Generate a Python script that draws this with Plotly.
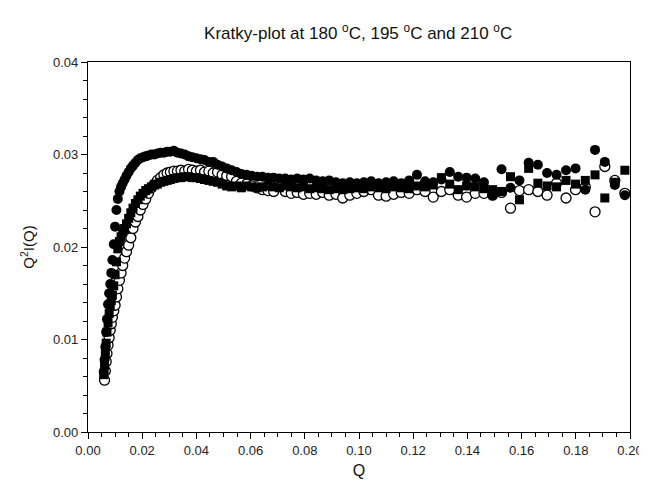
import plotly.graph_objects as go

# Shared Q grid
Q = [0.0058, 0.0061, 0.0064, 0.0067, 0.0070, 0.0074, 0.0078, 0.0082, 0.0086, 0.0090,
     0.0095, 0.0100, 0.0105, 0.0110, 0.0116, 0.0122, 0.0128, 0.0135, 0.0142, 0.0150,
     0.0158, 0.0166, 0.0175, 0.0184, 0.0193, 0.0203, 0.0213, 0.0223, 0.0234, 0.0245,
     0.0256, 0.0268, 0.0280, 0.0292, 0.0304, 0.0317, 0.0330, 0.0343, 0.0357, 0.0371,
     0.0385, 0.0400, 0.0415, 0.0430, 0.0446, 0.0462, 0.0478, 0.0495, 0.0512, 0.0530,
     0.0548, 0.0566, 0.0585, 0.0604, 0.0624, 0.0644, 0.0664, 0.0685, 0.0706, 0.0728,
     0.0750, 0.0772, 0.0795, 0.0818, 0.0842, 0.0866, 0.0890, 0.0915, 0.0940, 0.0966,
     0.0992, 0.1018, 0.1045, 0.1072, 0.1100, 0.1128, 0.1156, 0.1185, 0.1214, 0.1244,
     0.1274, 0.1304, 0.1335, 0.1366, 0.1397, 0.1429, 0.1461, 0.1493, 0.1526, 0.1559,
     0.1592, 0.1626, 0.1660, 0.1694, 0.1729, 0.1764, 0.1799, 0.1835, 0.1871, 0.1907,
     0.1944, 0.1981]

# Filled circles
I_180 = [0.0065, 0.0078, 0.0092, 0.0108, 0.0122, 0.0138, 0.0150, 0.0160, 0.0172, 0.0186,
         0.0203, 0.0222, 0.0240, 0.0252, 0.0260, 0.0265, 0.0269, 0.0273, 0.0277, 0.0281,
         0.0285, 0.0288, 0.0291, 0.0294, 0.0296, 0.0297, 0.0298, 0.0299, 0.0300, 0.0300,
         0.0301, 0.0302, 0.0302, 0.0303, 0.0303, 0.0304, 0.0302, 0.0301, 0.0300, 0.0298,
         0.0297, 0.0296, 0.0295, 0.0294, 0.0292, 0.0292, 0.0289, 0.0287, 0.0285, 0.0283,
         0.0281, 0.0279, 0.0278, 0.0277, 0.0276, 0.0276, 0.0275, 0.0275, 0.0274, 0.0274,
         0.0273, 0.0274, 0.0273, 0.0274, 0.0272, 0.0271, 0.0272, 0.0270, 0.0269, 0.0270,
         0.0269, 0.0270, 0.0271, 0.0269, 0.0270, 0.0271, 0.0269, 0.0272, 0.0278, 0.0271,
         0.0270, 0.0273, 0.0281, 0.0276, 0.0275, 0.0274, 0.0270, 0.0256, 0.0284, 0.0264,
         0.0272, 0.0291, 0.0289, 0.0280, 0.0278, 0.0283, 0.0285, 0.0262, 0.0305, 0.0292,
         0.0267, 0.0256]

# Filled squares
I_195 = [0.0062, 0.0072, 0.0084, 0.0096, 0.0108, 0.0118, 0.0128, 0.0136, 0.0142, 0.0148,
         0.0158, 0.0170, 0.0184, 0.0198, 0.0206, 0.0211, 0.0216, 0.0220, 0.0225, 0.0231,
         0.0237, 0.0242, 0.0247, 0.0251, 0.0255, 0.0258, 0.0261, 0.0263, 0.0265, 0.0267,
         0.0268, 0.0270, 0.0271, 0.0272, 0.0273, 0.0274, 0.0275, 0.0275, 0.0276, 0.0276,
         0.0275, 0.0275, 0.0274, 0.0273, 0.0272, 0.0271, 0.0270, 0.0268, 0.0266, 0.0265,
         0.0266, 0.0264, 0.0266, 0.0265, 0.0264, 0.0265, 0.0266, 0.0265, 0.0264, 0.0266,
         0.0265, 0.0264, 0.0265, 0.0263, 0.0264, 0.0263, 0.0262, 0.0263, 0.0262, 0.0263,
         0.0264, 0.0263, 0.0265, 0.0264, 0.0263, 0.0265, 0.0264, 0.0263, 0.0266, 0.0265,
         0.0267, 0.0275, 0.0268, 0.0262, 0.0266, 0.0265, 0.0263, 0.0262, 0.0260, 0.0276,
         0.0251, 0.0285, 0.0269, 0.0266, 0.0265, 0.0272, 0.0268, 0.0272, 0.0278, 0.0253,
         0.0270, 0.0283]

# Open circles
I_210 = [None, 0.0056, 0.0066, 0.0076, 0.0085, 0.0094, 0.0102, 0.0110, 0.0117, 0.0124,
         0.0131, 0.0137, 0.0146, 0.0155, 0.0164, 0.0172, 0.0180, 0.0188, 0.0195, 0.0202,
         0.0210, 0.0220, 0.0227, 0.0233, 0.0240, 0.0246, 0.0252, 0.0258, 0.0264, 0.0268,
         0.0272, 0.0275, 0.0278, 0.0280, 0.0281, 0.0282, 0.0282, 0.0283, 0.0282, 0.0284,
         0.0283, 0.0282, 0.0283, 0.0281, 0.0282, 0.0280, 0.0281, 0.0278, 0.0277, 0.0276,
         0.0271, 0.0269, 0.0268, 0.0266, 0.0264, 0.0262, 0.0261, 0.0260, 0.0268, 0.0260,
         0.0258, 0.0259, 0.0257, 0.0258, 0.0257, 0.0259, 0.0256, 0.0257, 0.0253, 0.0256,
         0.0258, 0.0260, 0.0262, 0.0256, 0.0255, 0.0257, 0.0259, 0.0258, 0.0262, 0.0260,
         0.0254, 0.0260, 0.0262, 0.0256, 0.0254, 0.0258, 0.0258, 0.0256, 0.0259, 0.0242,
         0.0261, 0.0262, 0.0260, 0.0256, 0.0269, 0.0253, 0.0262, 0.0265, 0.0238, 0.0287,
         0.0272, 0.0258]

X_TICKS = [0.00, 0.02, 0.04, 0.06, 0.08, 0.10, 0.12, 0.14, 0.16, 0.18, 0.20]
Y_TICKS = [0.00, 0.01, 0.02, 0.03, 0.04]

TITLE = "Kratky-plot at 180 <sup>o</sup>C, 195 <sup>o</sup>C and 210 <sup>o</sup>C"
FONT = "Arial, Liberation Sans, sans-serif"

fig = go.Figure()
fig.add_trace(go.Scatter(x=Q, y=I_210, mode="markers", name="210 °C",
                         marker=dict(symbol="circle", size=10, color="white",
                                     line=dict(color="black", width=1.3))))
fig.add_trace(go.Scatter(x=Q, y=I_195, mode="markers", name="195 °C",
                         marker=dict(symbol="square", size=9, color="black",
                                     line=dict(width=0))))
fig.add_trace(go.Scatter(x=Q, y=I_180, mode="markers", name="180 °C",
                         marker=dict(symbol="circle", size=10, color="black",
                                     line=dict(width=0))))

axis_common = dict(showline=True, linecolor="black", linewidth=1.3, mirror=True,
                   showgrid=False, zeroline=False, ticks="outside", ticklen=6,
                   tickwidth=1, tickcolor="black", automargin=False,
                   tickfont=dict(family=FONT, size=13, color="#222"))

fig.update_xaxes(range=[0, 0.20], tickvals=X_TICKS, tickformat=".2f",
                 minor=dict(dtick=0.005, ticks="outside", ticklen=4, tickcolor="black"),
                 title=dict(text="Q", font=dict(family=FONT, size=16, color="#111"), standoff=8),
                 **axis_common)
fig.update_yaxes(range=[0, 0.04], tickvals=Y_TICKS, tickformat=".2f",
                 minor=dict(dtick=0.002, ticks="outside", ticklen=4, tickcolor="black"),
                 title=dict(text="Q<sup>2</sup>I(Q)", font=dict(family=FONT, size=15, color="#111"), standoff=14),
                 **axis_common)

# page body adds an 8px offset, so the figure is sized to the visible area
fig.update_layout(
    width=639, height=488,
    margin=dict(l=80, r=17, t=54, b=64, autoexpand=False),
    paper_bgcolor="white", plot_bgcolor="white",
    showlegend=False,
    title=dict(text=TITLE, x=0.548, xanchor="center", y=0.949, yanchor="middle",
               font=dict(family=FONT, size=17, color="#111")),
)

fig.write_html("out.html")
